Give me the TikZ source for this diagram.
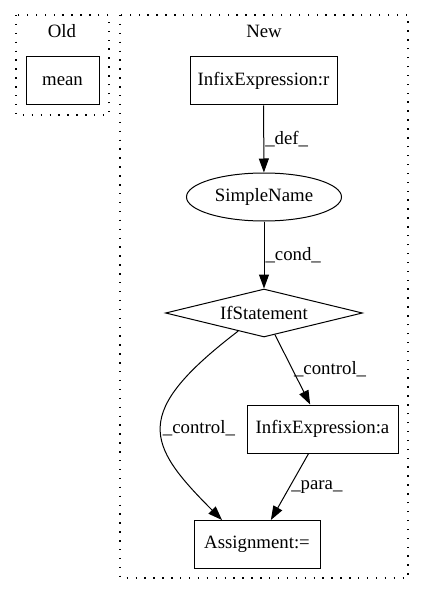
\documentclass[tikz,border=0pt]{standalone}
\usepackage{fontspec}
\setmainfont{Liberation Serif}
\usetikzlibrary{shapes.geometric, arrows.meta}

\begin{document}
\begin{tikzpicture}[x=1pt, y=-1pt,
  every node/.style={font=\fontsize{18.8}{21}\selectfont},
  box/.style={draw, line width=1pt, minimum height=48pt, inner sep=0pt},
  cluster/.style={draw, line width=1.4pt, dash pattern=on 1.4pt off 7.5pt},
  edge/.style={line width=1pt, -{Triangle[length=14pt, width=10pt]}},
  lbl/.style={right, inner sep=1pt}]
  \useasboundingbox (0,0) rectangle (424,596);

  % Old cluster
  \draw[cluster] (16,15) rectangle (109,115);
  \node (oldtitle) at (62,31) {Old};
  \node[box, minimum width=73pt] (mean) at (62.5,81) {mean};

  % New cluster
  \draw[cluster] (120,15) rectangle (408,578);
  \node (newtitle) at (264,31) {New};
  \node[box, minimum width=147pt] (infixr) at (263.5,81) {InfixExpression:r};
  \node[draw, ellipse, line width=1pt, minimum width=155pt, minimum height=48pt, inner sep=0pt] (simple) at (264,197) {SimpleName};
  \node[draw, diamond, line width=1pt, minimum width=197pt, minimum height=48pt, inner sep=0pt, shape aspect=4] (ifst) at (264,313) {IfStatement};
  \node[box, minimum width=151pt] (infixa) at (322.5,429) {InfixExpression:a};
  \node[box, minimum width=126pt] (assign) at (257,544.5) {Assignment:=};

  % edges
  \draw[edge] (infixr) -- node[lbl] (ldef) {\_def\_} (simple);
  \draw[edge] (simple) -- node[lbl] (lcond) {\_cond\_} (ifst);
  \draw[edge] (ifst) -- node[lbl] (lctrla) {\_control\_} (infixa);
  \draw[edge] (ifst.215) .. controls (131,413) and (146,444) .. node[lbl] (lctrlb) {\_control\_} (assign.145);
  \draw[edge] (infixa) -- node[lbl] (lpara) {\_para\_} (assign);
\end{tikzpicture}
\end{document}
